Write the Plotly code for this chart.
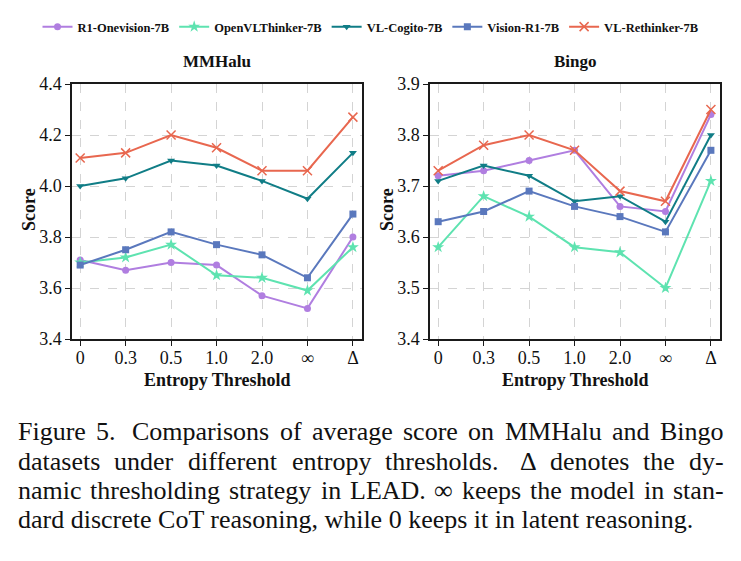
import plotly.graph_objects as go

categories = ["0", "0.3", "0.5", "1.0", "2.0", "∞", "Δ"]
series_names = ["R1-Onevision-7B", "OpenVLThinker-7B", "VL-Cogito-7B", "Vision-R1-7B", "VL-Rethinker-7B"]

mmhalu_r1 = [3.71, 3.67, 3.70, 3.69, 3.57, 3.52, 3.80]
mmhalu_openvl = [3.70, 3.72, 3.77, 3.65, 3.64, 3.59, 3.76]
mmhalu_cogito = [4.00, 4.03, 4.10, 4.08, 4.02, 3.95, 4.13]
mmhalu_visionr1 = [3.69, 3.75, 3.82, 3.77, 3.73, 3.64, 3.89]
mmhalu_rethinker = [4.11, 4.13, 4.20, 4.15, 4.06, 4.06, 4.27]

bingo_r1 = [3.72, 3.73, 3.75, 3.77, 3.66, 3.65, 3.84]
bingo_openvl = [3.58, 3.68, 3.64, 3.58, 3.57, 3.50, 3.71]
bingo_cogito = [3.71, 3.74, 3.72, 3.67, 3.68, 3.63, 3.80]
bingo_visionr1 = [3.63, 3.65, 3.69, 3.66, 3.64, 3.61, 3.77]
bingo_rethinker = [3.73, 3.78, 3.80, 3.77, 3.69, 3.67, 3.85]

mmhalu_ticks = [3.4, 3.6, 3.8, 4.0, 4.2, 4.4]
bingo_ticks = [3.4, 3.5, 3.6, 3.7, 3.8, 3.9]

caption_lines = [
    "Figure 5.  Comparisons of average score on MMHalu and Bingo",
    "datasets under different entropy thresholds.  Δ denotes the dy-",
    "namic thresholding strategy in LEAD. ∞ keeps the model in stan-",
    "dard discrete CoT reasoning, while 0 keeps it in latent reasoning.",
]

colors = ["#b07ee0", "#5ee3b0", "#107d86", "#5a78bd", "#e8674f"]
symbols = ["circle", "star", "triangle-down", "square", "x-thin"]

W, H = 741, 561
SERIF = "Liberation Serif, Times New Roman, serif"


def px_x(v):
    return v / W


def px_y(v):
    return 1 - v / H


fig = go.Figure()

mm = [mmhalu_r1, mmhalu_openvl, mmhalu_cogito, mmhalu_visionr1, mmhalu_rethinker]
bg = [bingo_r1, bingo_openvl, bingo_cogito, bingo_visionr1, bingo_rethinker]

xi = list(range(len(categories)))
for i, name in enumerate(series_names):
    is_x = symbols[i] == "x-thin"
    marker = dict(symbol=symbols[i], size=9 if is_x else (9 if symbols[i] == "star" else 7),
                  color=colors[i], line=dict(color=colors[i], width=1.5 if is_x else 0))
    fig.add_trace(go.Scatter(x=xi, y=mm[i], mode="lines+markers", name=name,
                             line=dict(color=colors[i], width=2), marker=marker,
                             xaxis="x", yaxis="y", legendgroup=name, showlegend=True))
    fig.add_trace(go.Scatter(x=xi, y=bg[i], mode="lines+markers", name=name,
                             line=dict(color=colors[i], width=2), marker=marker,
                             xaxis="x2", yaxis="y2", legendgroup=name, showlegend=False))

axis_common = dict(showline=True, linecolor="#1a1a1a", linewidth=1.5, mirror=True,
                   ticks="outside", ticklen=5, tickcolor="#1a1a1a", tickwidth=1.2,
                   showgrid=True, gridcolor="#d4d4d4", gridwidth=1, griddash="dash",
                   zeroline=False, automargin=False,
                   tickfont=dict(family=SERIF, size=18, color="#111"))

ydom = [px_y(339), px_y(84)]
fig.update_layout(
    width=W, height=H, margin=dict(l=0, r=0, t=0, b=0, autoexpand=False),
    paper_bgcolor="white", plot_bgcolor="white",
    xaxis=dict(domain=[px_x(72), px_x(362)], range=[-0.18, 6.2], anchor="y",
               tickmode="array", tickvals=xi, ticktext=categories,
               ticklabelstandoff=-3, **axis_common),
    yaxis=dict(domain=ydom, range=[3.4, 4.4], anchor="x", tickmode="array",
               tickvals=mmhalu_ticks, ticktext=[f"{v:.1f}" for v in mmhalu_ticks], **axis_common),
    xaxis2=dict(domain=[px_x(430), px_x(720)], range=[-0.18, 6.2], anchor="y2",
                tickmode="array", tickvals=xi, ticktext=categories,
                ticklabelstandoff=-3, **axis_common),
    yaxis2=dict(domain=ydom, range=[3.4, 3.9], anchor="x2", tickmode="array",
                tickvals=bingo_ticks, ticktext=[f"{v:.1f}" for v in bingo_ticks], **axis_common),
    legend=dict(orientation="h", x=0.5, xanchor="center", y=px_y(27), yanchor="middle",
                xref="container", yref="container",
                font=dict(family=SERIF, size=12.5, color="#111", weight="bold"),
                itemwidth=30, tracegroupgap=0, bgcolor="rgba(0,0,0,0)"),
    showlegend=True,
)

ann = []


def add_text(text, x, y, size, bold=False, xanchor="center", yanchor="middle", angle=0):
    ann.append(dict(text=text, x=px_x(x), y=px_y(y), xref="paper", yref="paper",
                    showarrow=False, xanchor=xanchor, yanchor=yanchor, textangle=angle,
                    borderpad=0,
                    font=dict(family=SERIF, size=size, color="#111",
                              weight="bold" if bold else "normal")))


add_text("MMHalu", 217, 62, 17, bold=True)
add_text("Bingo", 575, 62, 17, bold=True)
add_text("Entropy Threshold", 217, 380, 18, bold=True)
add_text("Entropy Threshold", 575, 380, 18, bold=True)
add_text("Score", 29, 210, 18, bold=True, angle=-90)
add_text("Score", 387, 210, 18, bold=True, angle=-90)

# Times-Roman advance widths (per 1000 em) for justified caption layout
TW = {" ": 250, ".": 250, ",": 250, "-": 333, "Δ": 612, "∞": 713}
for ch in "0123456789":
    TW[ch] = 500
TW.update(dict(a=444, b=500, c=444, d=500, e=444, f=333, g=500, h=500, i=278, j=278,
               k=500, l=278, m=778, n=500, o=500, p=500, q=500, r=333, s=389, t=278,
               u=500, v=500, w=722, x=500, y=500, z=444))
TW.update(dict(A=722, B=667, C=667, D=722, E=611, F=556, G=722, H=722, I=333, J=389,
               K=722, L=611, M=889, N=722, O=722, P=556, Q=722, R=667, S=556, T=611,
               U=722, V=722, W=944, X=722, Y=722, Z=611))

CAP_SIZE = 26
CAP_LEFT, CAP_RIGHT = 17, 723
caption_baselines = [440, 470, 499, 528]


def tw(s):
    return sum(TW.get(c, 500) for c in s) / 1000 * CAP_SIZE


for li, (line, base) in enumerate(zip(caption_lines, caption_baselines)):
    ymid = base - 0.34 * CAP_SIZE
    if li == len(caption_lines) - 1:
        add_text(line, CAP_LEFT, ymid, CAP_SIZE, xanchor="left")
        continue
    parts = line.split(" ")
    words, weights = [], []
    pending = 1.0
    for p in parts:
        if p == "":
            pending = 1.5
            continue
        if words:
            weights.append(pending)
        words.append(p)
        pending = 1.0
    natural = sum(tw(w) for w in words)
    total_gap = (CAP_RIGHT - CAP_LEFT) - natural
    unit = total_gap / sum(weights)
    x = CAP_LEFT
    for wi, w in enumerate(words):
        add_text(w, x, ymid, CAP_SIZE, xanchor="left")
        if wi < len(weights):
            x += tw(w) + unit * weights[wi]

fig.update_layout(annotations=ann)
fig.write_html("out.html")
